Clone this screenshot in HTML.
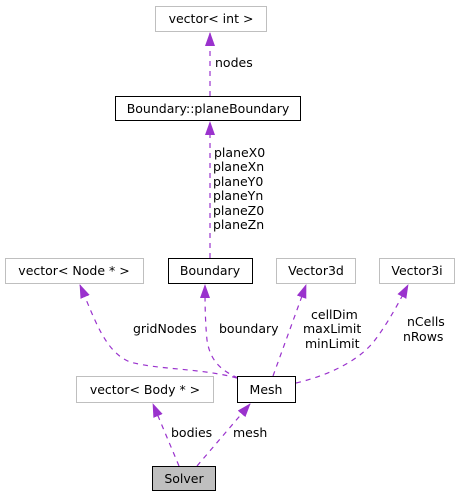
<!DOCTYPE html>
<html><head><style>body{margin:0;background:#fff}svg{display:block}</style></head><body>
<svg width="460" height="497" viewBox="0 0 460 497" xmlns="http://www.w3.org/2000/svg" font-family="DejaVu Sans, Liberation Sans, sans-serif" font-size="12.5">
<defs><marker id="a" markerWidth="14" markerHeight="12" refX="13" refY="6" orient="auto" markerUnits="userSpaceOnUse"><path d="M0,1 L14,6 L0,11 Z" fill="#9a32cd"/></marker></defs>
<g fill="none" stroke="#9a32cd" stroke-dasharray="5,5" stroke-width="1.2">
<path d="M210,96 L210,33" marker-end="url(#a)"/>
<path d="M210,258 L210,122" marker-end="url(#a)"/>
<path d="M237,378 C200,368 160,370 130,362 C105,352 95,320 80,285" marker-end="url(#a)"/>
<path d="M238,378 C220,370 210,360 207,340 C205,320 205,300 205,285" marker-end="url(#a)"/>
<path d="M273,376 L306,285" marker-end="url(#a)"/>
<path d="M296,383 C330,375 360,360 375,340 C390,320 400,300 408,285" marker-end="url(#a)"/>
<path d="M179,466 L153,404" marker-end="url(#a)"/>
<path d="M197,466 L250,404" marker-end="url(#a)"/>
</g>
<g stroke-width="1">
<rect x="155.5" y="6.5" width="111" height="25" fill="#fff" stroke="#bfbfbf"/>
<rect x="115.5" y="96.5" width="185" height="24" fill="#fff" stroke="#000"/>
<rect x="168.5" y="258.5" width="84" height="25" fill="#fff" stroke="#000"/>
<rect x="5.5" y="258.5" width="138" height="25" fill="#fff" stroke="#bfbfbf"/>
<rect x="276.5" y="258.5" width="79" height="25" fill="#fff" stroke="#bfbfbf"/>
<rect x="379.5" y="258.5" width="75" height="25" fill="#fff" stroke="#bfbfbf"/>
<rect x="76.5" y="376.5" width="137" height="26" fill="#fff" stroke="#bfbfbf"/>
<rect x="237.5" y="376.5" width="58" height="26" fill="#fff" stroke="#000"/>
<rect x="152.5" y="466.5" width="63" height="24" fill="#bfbfbf" stroke="#000"/>
</g>
<g fill="#000" text-anchor="middle">
<text x="211" y="23">vector&lt; int &gt;</text>
<text x="208" y="113">Boundary::planeBoundary</text>
<text x="210" y="275">Boundary</text>
<text x="74" y="275">vector&lt; Node * &gt;</text>
<text x="316" y="275">Vector3d</text>
<text x="417" y="275">Vector3i</text>
<text x="145" y="394">vector&lt; Body * &gt;</text>
<text x="266" y="394">Mesh</text>
<text x="184" y="483">Solver</text>
</g>
<g fill="#000">
<text x="215" y="67">nodes</text>
<text x="214" y="157">planeX0</text>
<text x="213" y="171">planeXn</text>
<text x="213" y="186">planeY0</text>
<text x="213" y="200">planeYn</text>
<text x="213" y="215">planeZ0</text>
<text x="213" y="229">planeZn</text>
<text x="133" y="333">gridNodes</text>
<text x="219" y="333">boundary</text>
<text x="311" y="319">cellDim</text>
<text x="303" y="333">maxLimit</text>
<text x="305" y="348">minLimit</text>
<text x="407" y="326">nCells</text>
<text x="403" y="341">nRows</text>
<text x="171" y="437">bodies</text>
<text x="233" y="437">mesh</text>
</g>
</svg>
</body></html>
